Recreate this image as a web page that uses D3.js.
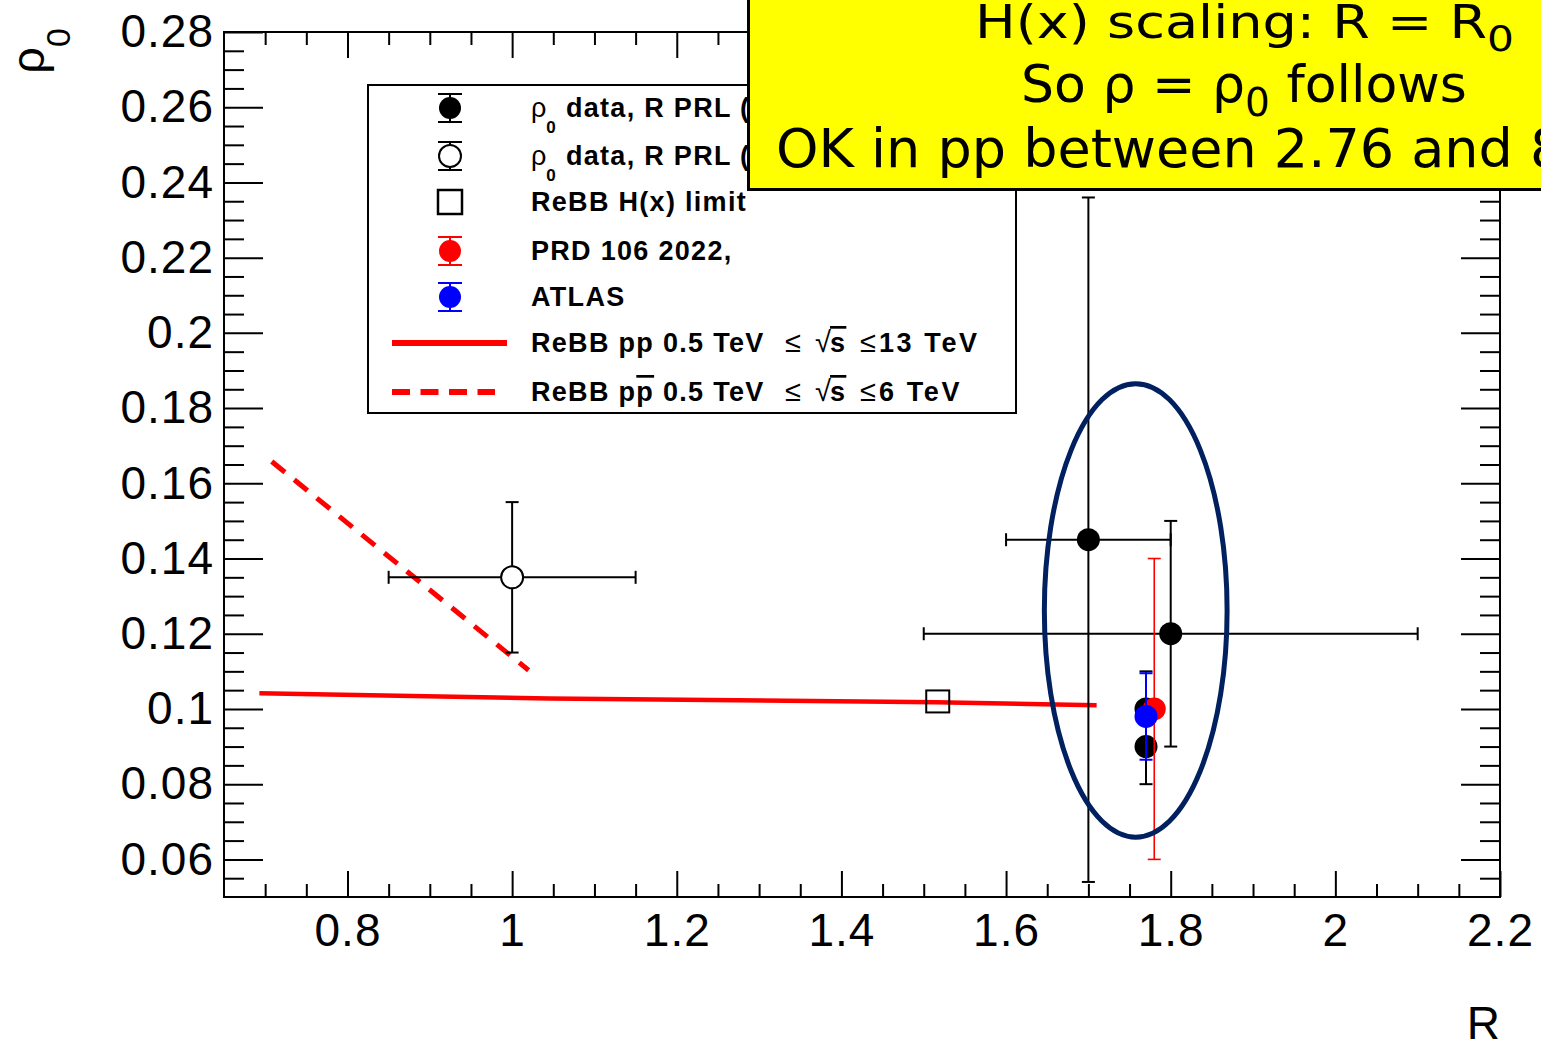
<!DOCTYPE html>
<html><head><meta charset="utf-8">
<script src="https://cdn.jsdelivr.net/npm/d3@7"></script>
<style>body{margin:0;background:#fff;} svg{display:block;}</style>
</head><body>
<svg id="c" width="1541" height="1042"></svg>
<script>
// ---------- data ----------
const xTickValues = [0.8, 1, 1.2, 1.4, 1.6, 1.8, 2, 2.2];
const xTickLabels = ["0.8", "1", "1.2", "1.4", "1.6", "1.8", "2", "2.2"];
const yTickValues = [0.06, 0.08, 0.1, 0.12, 0.14, 0.16, 0.18, 0.2, 0.22, 0.24, 0.26, 0.28];
const yTickLabels = ["0.06", "0.08", "0.1", "0.12", "0.14", "0.16", "0.18", "0.2", "0.22", "0.24", "0.26", "0.28"];

// rho0 data, R PRL (filled black)
const prlR      = [1.70, 1.80, 1.77, 1.77];
const prlRho    = [0.145, 0.120, 0.090, 0.100];
const prlErrR   = [0.10, 0.30, 0.0, 0.0];
const prlErrRho = [0.091, 0.030, 0.010, 0.010];

// rho0 data, R PRL (open)
const openR      = [1.00];
const openRho    = [0.135];
const openErrR   = [0.15];
const openErrRho = [0.020];

// ReBB H(x) limit
const limitR   = [1.517];
const limitRho = [0.102];

// PRD 106 2022
const prdR      = [1.78];
const prdRho    = [0.100];
const prdErrRho = [0.040];

// ATLAS
const atlasR      = [1.77];
const atlasRho    = [0.098];
const atlasErrRho = [0.0115];

// ReBB pp line
const ppR   = [0.693, 1.045, 1.515, 1.710];
const ppRho = [0.1042, 0.1028, 0.1018, 0.1010];
// ReBB ppbar line
const ppbarR   = [0.708, 1.020];
const ppbarRho = [0.1658, 0.1103];

// annotation ellipse (centre and semi-axes in data units)
const ellipseCenter = [1.7575, 0.1262];
const ellipseSemi   = [0.111, 0.0603];

// ---------- layout ----------
const L = 224, R = 1500, T = 32, B = 897;
const svg = d3.select("#c");
const x = d3.scaleLinear().domain([0.65, 2.2]).range([L, R]);
const y = d3.scaleLinear().domain([0.05, 0.28]).range([B, T]);

const xMinor = d3.range(13, 45).map(i => +(i * 0.05).toFixed(3)).filter(v => v > 0.65 && v < 2.2 && !xTickValues.some(t => Math.abs(t - v) < 1e-6));
const yMinor = d3.range(10, 57).map(i => +(i * 0.005).toFixed(4)).filter(v => v > 0.05 && v < 0.28 && !yTickValues.some(t => Math.abs(t - v) < 1e-6));

const FONT = "'Liberation Sans', Arial, Helvetica, sans-serif";

function styleAxis(g, labels) {
  g.select(".domain").remove();
  g.selectAll(".tick line").attr("stroke", "#000").attr("stroke-width", 2);
  g.selectAll(".tick text").attr("fill", "#000").style("font-family", FONT).style("font-size", "46px").style("letter-spacing", "1px");
  if (!labels) g.selectAll(".tick text").remove();
}

// bottom
svg.append("g").attr("transform", `translate(0,${B})`)
  .call(d3.axisBottom(x).tickValues(xTickValues).tickFormat((d, i) => xTickLabels[i]).tickSize(-26).tickSizeOuter(0).tickPadding(16))
  .call(g => styleAxis(g, true));
svg.append("g").attr("transform", `translate(0,${B})`)
  .call(d3.axisBottom(x).tickValues(xMinor).tickFormat("").tickSize(-13).tickSizeOuter(0))
  .call(g => styleAxis(g, false));
// top
svg.append("g").attr("transform", `translate(0,${T})`)
  .call(d3.axisTop(x).tickValues(xTickValues).tickFormat("").tickSize(-26).tickSizeOuter(0))
  .call(g => styleAxis(g, false));
svg.append("g").attr("transform", `translate(0,${T})`)
  .call(d3.axisTop(x).tickValues(xMinor).tickFormat("").tickSize(-13).tickSizeOuter(0))
  .call(g => styleAxis(g, false));
// left
svg.append("g").attr("transform", `translate(${L},0)`)
  .call(d3.axisLeft(y).tickValues(yTickValues).tickFormat((d, i) => yTickLabels[i]).tickSize(-39).tickSizeOuter(0).tickPadding(10))
  .call(g => styleAxis(g, true));
svg.append("g").attr("transform", `translate(${L},0)`)
  .call(d3.axisLeft(y).tickValues(yMinor).tickFormat("").tickSize(-20).tickSizeOuter(0))
  .call(g => styleAxis(g, false));
// right
svg.append("g").attr("transform", `translate(${R},0)`)
  .call(d3.axisRight(y).tickValues(yTickValues).tickFormat("").tickSize(-39).tickSizeOuter(0))
  .call(g => styleAxis(g, false));
svg.append("g").attr("transform", `translate(${R},0)`)
  .call(d3.axisRight(y).tickValues(yMinor).tickFormat("").tickSize(-20).tickSizeOuter(0))
  .call(g => styleAxis(g, false));

// frame
svg.append("rect").attr("x", L).attr("y", T).attr("width", R - L).attr("height", B - T)
  .attr("fill", "none").attr("stroke", "#000").attr("stroke-width", 2);

// axis titles
svg.append("text").attr("x", R).attr("y", 1039).attr("text-anchor", "end")
  .style("font-family", FONT).style("font-size", "46px").text("R");
const yt = svg.append("text").attr("transform", "translate(44,28) rotate(-90)").attr("text-anchor", "end")
  .style("font-family", FONT).style("font-size", "47px");
yt.append("tspan").text("ρ");
yt.append("tspan").attr("dy", 26).style("font-size", "34px").text("0");

// ---------- lines ----------
const line = d3.line().x(d => x(d[0])).y(d => y(d[1]));
svg.append("path").datum(ppR.map((r, i) => [r, ppRho[i]])).attr("d", line)
  .attr("fill", "none").attr("stroke", "#ff0000").attr("stroke-width", 4.5);
svg.append("path").datum(ppbarR.map((r, i) => [r, ppbarRho[i]])).attr("d", line)
  .attr("fill", "none").attr("stroke", "#ff0000").attr("stroke-width", 5).attr("stroke-dasharray", "17,12");

// ---------- error bars ----------
function errBars(g, r, rho, er, erho, color, w, cap, gap) {
  gap = gap || 0;
  const cx = x(r), cy = y(rho);
  if (er > 0) {
    const x0 = x(r - er), x1 = x(r + er);
    g.append("line").attr("x1", x0).attr("x2", cx - gap).attr("y1", cy).attr("y2", cy);
    g.append("line").attr("x1", cx + gap).attr("x2", x1).attr("y1", cy).attr("y2", cy);
    g.append("line").attr("x1", x0).attr("x2", x0).attr("y1", cy - cap / 2).attr("y2", cy + cap / 2);
    g.append("line").attr("x1", x1).attr("x2", x1).attr("y1", cy - cap / 2).attr("y2", cy + cap / 2);
  }
  if (erho > 0) {
    const y0 = y(rho + erho), y1 = y(rho - erho);
    g.append("line").attr("x1", cx).attr("x2", cx).attr("y1", y0).attr("y2", cy - gap);
    g.append("line").attr("x1", cx).attr("x2", cx).attr("y1", cy + gap).attr("y2", y1);
    g.append("line").attr("x1", cx - cap / 2).attr("x2", cx + cap / 2).attr("y1", y0).attr("y2", y0);
    g.append("line").attr("x1", cx - cap / 2).attr("x2", cx + cap / 2).attr("y1", y1).attr("y2", y1);
  }
  g.attr("stroke", color).attr("stroke-width", w);
}

// black PRL
prlR.forEach((r, i) => errBars(svg.append("g"), r, prlRho[i], prlErrR[i], prlErrRho[i], "#000", 2, 13));
// open
openR.forEach((r, i) => errBars(svg.append("g"), r, openRho[i], openErrR[i], openErrRho[i], "#000", 2, 13, 11));
// markers black
svg.append("g").selectAll("circle").data(prlR).join("circle")
  .attr("cx", d => x(d)).attr("cy", (d, i) => y(prlRho[i])).attr("r", 11.5).attr("fill", "#000");
svg.append("g").selectAll("circle").data(openR).join("circle")
  .attr("cx", d => x(d)).attr("cy", (d, i) => y(openRho[i])).attr("r", 11)
  .attr("fill", "#fff").attr("stroke", "#000").attr("stroke-width", 2);
// square
svg.append("g").selectAll("rect").data(limitR).join("rect")
  .attr("x", d => x(d) - 11.5).attr("y", (d, i) => y(limitRho[i]) - 11).attr("width", 23).attr("height", 22)
  .attr("fill", "none").attr("stroke", "#000").attr("stroke-width", 2);
// red
prdR.forEach((r, i) => errBars(svg.append("g"), r, prdRho[i], 0, prdErrRho[i], "#ff0000", 1.6, 13));
svg.append("g").selectAll("circle").data(prdR).join("circle")
  .attr("cx", d => x(d)).attr("cy", (d, i) => y(prdRho[i])).attr("r", 11.5).attr("fill", "#ff0000");
// blue
atlasR.forEach((r, i) => errBars(svg.append("g"), r, atlasRho[i], 0, atlasErrRho[i], "#0000ff", 2, 13));
svg.append("g").selectAll("circle").data(atlasR).join("circle")
  .attr("cx", d => x(d)).attr("cy", (d, i) => y(atlasRho[i])).attr("r", 11.5).attr("fill", "#0000ff");

// ellipse annotation
svg.append("ellipse")
  .attr("cx", x(ellipseCenter[0])).attr("cy", y(ellipseCenter[1]))
  .attr("rx", x(ellipseCenter[0] + ellipseSemi[0]) - x(ellipseCenter[0]))
  .attr("ry", y(ellipseCenter[1]) - y(ellipseCenter[1] + ellipseSemi[1]))
  .attr("fill", "none").attr("stroke", "#00205f").attr("stroke-width", 5);

// ---------- legend ----------
const lg = svg.append("g");
lg.append("rect").attr("x", 368).attr("y", 85).attr("width", 648).attr("height", 328)
  .attr("fill", "#fff").attr("stroke", "#000").attr("stroke-width", 2);
const rowsY = [108, 156, 202, 251, 297, 343, 392];
const mx = 450, tx = 531;
function legErr(cy, color, open) {
  const g = lg.append("g").attr("stroke", color).attr("stroke-width", 2);
  const gap = open ? 11 : 0;
  g.append("line").attr("x1", mx).attr("x2", mx).attr("y1", cy - 14).attr("y2", cy - gap);
  g.append("line").attr("x1", mx).attr("x2", mx).attr("y1", cy + gap).attr("y2", cy + 14);
  g.append("line").attr("x1", mx - 12).attr("x2", mx + 12).attr("y1", cy - 14).attr("y2", cy - 14);
  g.append("line").attr("x1", mx - 12).attr("x2", mx + 12).attr("y1", cy + 14).attr("y2", cy + 14);
  lg.append("circle").attr("cx", mx).attr("cy", cy).attr("r", 11)
    .attr("fill", open ? "#fff" : color).attr("stroke", open ? "#000" : "none").attr("stroke-width", 2);
}
legErr(rowsY[0], "#000", false);
legErr(rowsY[1], "#000", true);
lg.append("rect").attr("x", mx - 12).attr("y", rowsY[2] - 12).attr("width", 24).attr("height", 24)
  .attr("fill", "none").attr("stroke", "#000").attr("stroke-width", 2.5);
legErr(rowsY[3], "#ff0000", false);
legErr(rowsY[4], "#0000ff", false);
lg.append("line").attr("x1", 392).attr("x2", 507).attr("y1", rowsY[5]).attr("y2", rowsY[5])
  .attr("stroke", "#ff0000").attr("stroke-width", 6);
lg.append("line").attr("x1", 392).attr("x2", 495).attr("y1", rowsY[6]).attr("y2", rowsY[6])
  .attr("stroke", "#ff0000").attr("stroke-width", 6).attr("stroke-dasharray", "18,10.5");

function legText(cy, xx) {
  return lg.append("text").attr("x", xx === undefined ? tx : xx).attr("y", cy + 9)
    .style("font-family", FONT).style("font-size", "27px").style("font-weight", "bold")
    .style("letter-spacing", "1.3px");
}
[0, 1].forEach(k => {
  const t = legText(rowsY[k]);
  t.append("tspan").style("font-weight", "normal").style("letter-spacing", "0px").text("ρ");
  t.append("tspan").attr("dy", 16).style("font-size", "17px").text("0");
  t.append("tspan").attr("dy", -16).text(" data, R PRL (2021)");
});
legText(rowsY[2]).text("ReBB H(x) limit");
legText(rowsY[3]).text("PRD 106 2022,");
legText(rowsY[4]).text("ATLAS");

function sqrtPart(cy, tail) {
  legText(cy, 785).style("font-weight", "normal").style("letter-spacing", "0px").style("font-size", "29px").text("≤");
  legText(cy, 815).style("font-weight", "normal").style("letter-spacing", "0px").style("font-size", "29px").text("√");
  legText(cy, 830).style("text-decoration", "overline").text("s");
  legText(cy, 860).style("font-weight", "normal").style("letter-spacing", "0px").style("font-size", "29px").text("≤");
  legText(cy, 879).style("letter-spacing", "2.6px").text(tail);
}
legText(rowsY[5]).text("ReBB pp 0.5 TeV");
sqrtPart(rowsY[5], "13 TeV");
{
  const t = legText(rowsY[6]);
  t.append("tspan").text("ReBB p");
  t.append("tspan").style("text-decoration", "overline").text("p");
  t.append("tspan").text(" 0.5 TeV");
}
sqrtPart(rowsY[6], "6 TeV");

// ---------- yellow annotation box ----------
const yb = svg.append("g");
yb.append("rect").attr("x", 748.5).attr("y", -10).attr("width", 900).attr("height", 199.5)
  .attr("fill", "#ffff00").attr("stroke", "#000").attr("stroke-width", 3);
const BF = "'DejaVu Sans', Verdana, sans-serif";
{
  const t = yb.append("text").attr("x", 975).attr("y", 38)
    .attr("textLength", 539).attr("lengthAdjust", "spacingAndGlyphs")
    .style("font-family", BF).style("font-size", "46px");
  t.append("tspan").text("H(x) scaling: R = R");
  t.append("tspan").attr("dy", 13).style("font-size", "36px").text("0");
}
{
  const t = yb.append("text").attr("x", 1244).attr("y", 102).attr("text-anchor", "middle")
    .style("font-family", BF).style("font-size", "52px");
  t.append("tspan").text("So ρ = ρ");
  t.append("tspan").attr("dy", 14).style("font-size", "39px").text("0");
  t.append("tspan").attr("dy", -14).text(" follows");
}
yb.append("text").attr("x", 776).attr("y", 167)
  .style("font-family", BF).style("font-size", "54px").text("OK in pp between 2.76 and 8 TeV");
</script>
</body></html>
